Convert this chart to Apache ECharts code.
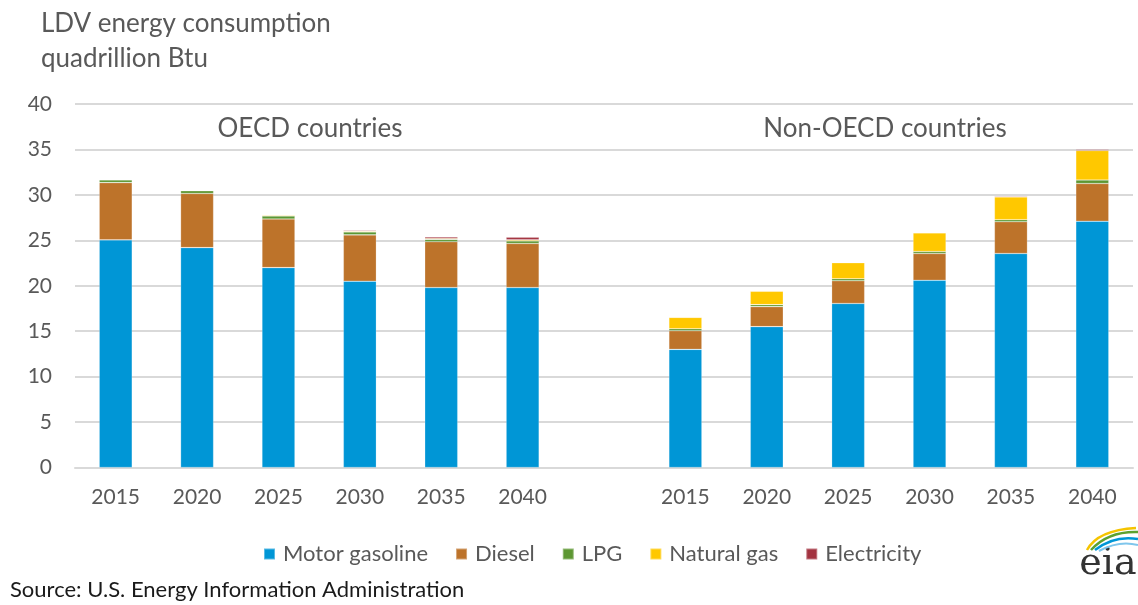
<!DOCTYPE html>
<html>
<head>
<meta charset="utf-8">
<script src="https://cdn.jsdelivr.net/npm/echarts@6/dist/echarts.min.js"></script>
<style>
html,body{margin:0;padding:0;background:#fff;}
#chart{width:1138px;height:605px;}
</style>
</head>
<body>
<div id="chart"></div>
<script>
// ---- data ----
var years = ['2015', '2020', '2025', '2030', '2035', '2040'];
var groups = ['OECD countries', 'Non-OECD countries'];
var seriesNames = ['Motor gasoline', 'Diesel', 'LPG', 'Natural gas', 'Electricity'];
var yTicks = [0, 5, 10, 15, 20, 25, 30, 35, 40];
// OECD values (2015..2040)
var oecdGasoline    = [25.05, 24.2, 22.0, 20.5, 19.8, 19.8];
var oecdDiesel      = [6.3, 5.95, 5.35, 5.1, 5.05, 4.85];
var oecdLPG         = [0.3, 0.3, 0.32, 0.32, 0.25, 0.28];
var oecdNaturalGas  = [0.05, 0.05, 0.1, 0.08, 0.1, 0.12];
var oecdElectricity = [0.05, 0.05, 0.08, 0.08, 0.16, 0.28];
// Non-OECD values (2015..2040)
var nonGasoline     = [13.0, 15.5, 18.05, 20.6, 23.55, 27.1];
var nonDiesel       = [2.05, 2.2, 2.5, 2.95, 3.5, 4.15];
var nonLPG          = [0.22, 0.22, 0.22, 0.22, 0.22, 0.38];
var nonNaturalGas   = [1.25, 1.47, 1.76, 2.05, 2.5, 3.25];
var nonElectricity  = [0.07, 0.04, 0.07, 0.07, 0.08, 0.11];

var colors = ['#0096D6', '#BD732A', '#5D9732', '#FFC800', '#A33340'];

// categories: OECD years, a blank spacer, Non-OECD years
var catKeys = [];
years.forEach(function (y) { catKeys.push('O|' + y); });
catKeys.push('gap|');
years.forEach(function (y) { catKeys.push('N|' + y); });

function join(a, b) { return a.concat([null]).concat(b); }
var seriesData = [
  join(oecdGasoline, nonGasoline),
  join(oecdDiesel, nonDiesel),
  join(oecdLPG, nonLPG),
  join(oecdNaturalGas, nonNaturalGas),
  join(oecdElectricity, nonElectricity)
];

var FONT = 'Lato, "Open Sans", sans-serif';
var chart = echarts.init(document.getElementById('chart'));

var series = seriesNames.map(function (n, i) {
  return {
    name: n,
    type: 'bar',
    stack: 'total',
    barWidth: 33,
    data: seriesData[i],
    itemStyle: { color: colors[i], borderColor: 'rgba(255,255,255,0.35)', borderWidth: 0.6 },
    emphasis: { disabled: true }
  };
});

chart.setOption({
  animation: false,
  backgroundColor: '#fff',
  color: colors,
  title: {
    text: 'LDV energy consumption\nquadrillion Btu',
    left: 36, top: 1,
    textStyle: { fontFamily: FONT, fontSize: 26, fontWeight: 'normal', color: '#595959', lineHeight: 35 }
  },
  grid: { left: 75, right: 5, top: 104, bottom: 137.5, containLabel: false },
  legend: {
    data: seriesNames,
    top: 538, left: 258,
    itemWidth: 11, itemHeight: 11, itemGap: 27,
    icon: 'rect',
    textStyle: { fontFamily: FONT, fontSize: 22, color: '#595959', padding: [0, 0, 0, 3] }
  },
  xAxis: {
    type: 'category',
    data: catKeys,
    axisLine: { show: true, lineStyle: { color: '#d9d9d9', width: 2 } },
    axisTick: { show: false },
    axisLabel: {
      interval: 0, margin: 19,
      fontFamily: FONT, fontSize: 21, color: '#595959',
      formatter: function (v) { return v.split('|')[1]; }
    }
  },
  yAxis: {
    type: 'value', min: yTicks[0], max: yTicks[yTicks.length - 1], interval: 5,
    axisLine: { show: false }, axisTick: { show: false },
    splitLine: { lineStyle: { color: '#d9d9d9', width: 2 } },
    axisLabel: { margin: 23, fontFamily: FONT, fontSize: 21, color: '#595959' }
  },
  series: series,
  graphic: [
    { type: 'text', style: { text: groups[0], fontFamily: FONT, fontSize: 26, fill: '#595959', textAlign: 'center', textVerticalAlign: 'middle' }, x: 310, y: 129 },
    { type: 'text', style: { text: groups[1], fontFamily: FONT, fontSize: 26, fill: '#595959', textAlign: 'center', textVerticalAlign: 'middle' }, x: 885, y: 129 },
    { type: 'text', style: { text: 'Source: U.S. Energy Information Administration', fontFamily: FONT, fontSize: 22, fill: '#1a1a1a', textVerticalAlign: 'middle' }, x: 10, y: 590 },
    { type: 'text', style: { text: 'eia', fontFamily: '"DejaVu Serif", "Liberation Serif", serif', fontSize: 38, fill: '#333', textAlign: 'center', textVerticalAlign: 'middle' }, x: 1108, y: 564 },
    { type: 'bezierCurve', shape: { x1: 1087, y1: 550, x2: 1136, y2: 528, cpx1: 1098, cpy1: 530 }, style: { stroke: '#F5C400', lineWidth: 2.5, fill: null } },
    { type: 'bezierCurve', shape: { x1: 1091, y1: 550, x2: 1138, y2: 532, cpx1: 1108, cpy1: 531 }, style: { stroke: '#5DA130', lineWidth: 2.5, fill: null } },
    { type: 'bezierCurve', shape: { x1: 1095, y1: 550, x2: 1138, y2: 539, cpx1: 1114, cpy1: 535 }, style: { stroke: '#0096D6', lineWidth: 2.5, fill: null } },
    { type: 'bezierCurve', shape: { x1: 1099, y1: 551, x2: 1138, y2: 545, cpx1: 1119, cpy1: 540 }, style: { stroke: '#7FC6EC', lineWidth: 2, fill: null } }
  ]
});
</script>
</body>
</html>
